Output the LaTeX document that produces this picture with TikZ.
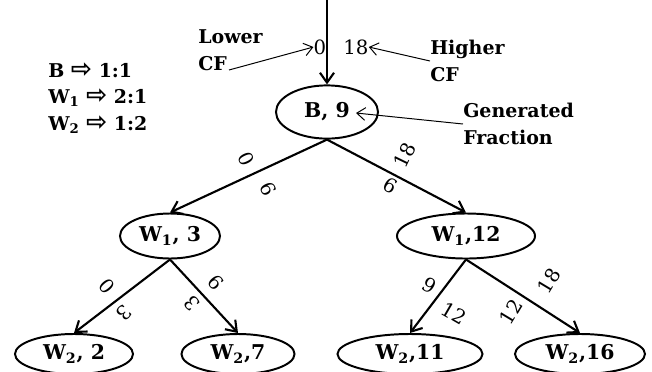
\documentclass[tikz,border=0pt]{standalone}
\usepackage{fontspec}
\setmainfont{DejaVu Serif}
\newfontfamily\arrowfont{DejaVu Sans}
\usetikzlibrary{arrows.meta, shapes.geometric}

\newcommand{\gives}{{\arrowfont\bfseries\fontsize{18}{19}\selectfont ⇨}}

\tikzset{
  frac/.style={ellipse, draw, line width=1.4pt, inner sep=0pt,
    font=\fontsize{14.5}{16}\selectfont\bfseries},
  tag/.style={font=\fontsize{14}{15}\selectfont, inner sep=0pt},
  note/.style={font=\fontsize{13.5}{19}\selectfont\bfseries, align=left, inner sep=0pt},
  tree/.style={-{Straight Barb[length=7pt,width=10pt]}, line width=1.5pt},
  hint/.style={-{Straight Barb[length=6pt,width=9pt]}, line width=0.7pt},
}

\begin{document}
\begin{tikzpicture}[x=0.025cm, y=-0.025cm]
        \useasboundingbox (0,0) rectangle (652,371);

        % fractions
        \node[frac, minimum width=2.55cm, minimum height=1.33cm] (b) at (327,112) {B, 9};
        \node[frac, minimum width=2.5cm, minimum height=1.125cm] (w13) at (170,236) {W\textsubscript{1}, 3};
        \node[frac, minimum width=3.45cm, minimum height=1.125cm] (w112) at (466,236) {W\textsubscript{1},12};
        \node[frac, minimum width=2.95cm, minimum height=1cm] (w22) at (74,354) {W\textsubscript{2}, 2};
        \node[frac, minimum width=2.825cm, minimum height=1cm] (w27) at (238,354) {W\textsubscript{2},7};
        \node[frac, minimum width=3.625cm, minimum height=1cm] (w211) at (410,354) {W\textsubscript{2},11};
        \node[frac, minimum width=3.25cm, minimum height=1cm] (w216) at (580,354) {W\textsubscript{2},16};

        \coordinate (in) at (327,0);
        \draw[tree] (in) -- (b.north);
        \draw[tree] (b.south) -- (w13.north);
        \draw[tree] (b.south) -- (w112.north);
        \draw[tree] (w13.south) -- (w22.north);
        \draw[tree] (w13.south) -- (w27.north);
        \draw[tree] (w112.south) -- (w211.north);
        \draw[tree] (w112.south) -- (w216.north);

        % cumulative frequency bounds
        \node[tag] (lo) at (320,47) {0};
        \node[tag] (hi) at (356,47) {18};
        \node[tag, rotate=116] (b0) at (246,159) {0};
        \node[tag, rotate=116] (b9) at (268,189) {9};
        \node[tag, rotate=150] (r9) at (390,186) {9};
        \node[tag, rotate=64] (r18) at (405,155) {18};
        \node[tag, rotate=130] (l0) at (107,286) {0};
        \node[tag, rotate=-135] (l3) at (124,313) {3};
        \node[tag, rotate=131] (m3) at (192,303) {3};
        \node[tag, rotate=131] (m9) at (216,282) {9};
        \node[tag, rotate=-30] (n9) at (430,285) {9};
        \node[tag, rotate=-30] (n12) at (454,313) {12};
        \node[tag, rotate=59] (s12) at (511,312) {12};
        \node[tag, rotate=59] (s18) at (549,281) {18};

        % notes
        \node[note, anchor=west] (ratio) at (48,98)
          {B \gives\ 1:1\\W\textsubscript{1} \gives\ 2:1\\W\textsubscript{2} \gives\ 1:2};
        \node[note, anchor=west] (lower) at (198,50) {Lower\\CF};
        \node[note, anchor=west] (higher) at (430,61) {Higher\\CF};
        \node[note, anchor=west] (gen) at (463,124) {Generated\\Fraction};

        \coordinate (lowtail) at (229,70);
        \coordinate (gentip) at (356,113);
        \draw[hint] (lowtail) -- (lo.west);
        \draw[hint] (higher.west) -- (hi.east);
        \draw[hint] (gen.west) -- (gentip);
    \end{tikzpicture}
\end{document}
